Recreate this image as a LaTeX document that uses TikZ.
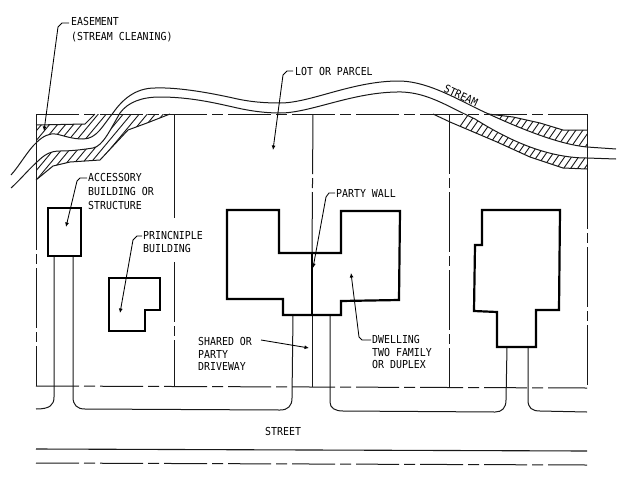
\documentclass[tikz,border=0pt]{standalone}
\usepackage{fontspec}
\usetikzlibrary{arrows.meta}
\newfontfamily\cadfont[FakeStretch=0.9]{DejaVu Sans Mono}
\tikzset{
  x=1pt,y=-1pt,
  lotline/.style={line width=1pt,black!90,dash pattern=on 43pt off 5pt on 11pt off 5pt},
  lotvert/.style={line width=1pt,black!90,dash pattern=on 60pt off 4pt on 10pt off 4pt},
  thinline/.style={line width=1pt,black!90,line join=round},
  bldg/.style={line width=2.2pt,black,line join=miter},
  leader/.style={line width=0.85pt,black,-{Latex[length=4.5pt,width=4pt]},line join=round},
  lbl/.style={anchor=west,inner sep=0pt,align=left,font=\cadfont\fontsize{11}{12.6}\selectfont,text=black},
  hatchline/.style={line width=0.9pt,black!90},
}
\newcommand{\upperbank}{(11,175) .. controls (20,165) and (28,150) .. (37,142) .. controls (43,136) and (50,133) .. (56,134) .. controls (65,136) and (72,139) .. (83,139) .. controls (97,139) and (103,125) .. (113,113) .. controls (122,100) and (135,88) .. (155,88) .. controls (180,87) and (215,94) .. (233,98) .. controls (250,102) and (265,103) .. (280,103) .. controls (310,103) and (350,82) .. (396,81) .. controls (425,80) and (455,98) .. (480,110) .. controls (510,124) and (555,144) .. (587,147) -- (616,149)}
\newcommand{\lowerbank}{(11,188) .. controls (20,180) and (28,170) .. (37,162) .. controls (44,155) and (50,151) .. (60,151) .. controls (70,151) and (80,150) .. (93,148) .. controls (103,146) and (110,130) .. (120,113) .. controls (128,102) and (142,97) .. (160,97) .. controls (190,97) and (215,103) .. (233,107) .. controls (250,111) and (265,113) .. (280,113) .. controls (310,113) and (350,93) .. (396,92) .. controls (425,91) and (445,105) .. (475,119) .. controls (505,138) and (545,158) .. (587,158) -- (616,159)}
\newcommand{\streamarea}{\upperbank -- (616,159) -- (587,158) .. controls (545,158) and (505,138) .. (475,119) .. controls (445,105) and (425,91) .. (396,92) .. controls (350,93) and (310,113) .. (280,113) .. controls (265,113) and (250,111) .. (233,107) .. controls (215,103) and (190,97) .. (160,97) .. controls (142,97) and (128,102) .. (120,113) .. controls (110,130) and (103,146) .. (93,148) .. controls (80,150) and (70,151) .. (60,151) .. controls (50,151) and (44,155) .. (37,162) .. controls (28,170) and (20,180) .. (11,188) -- cycle}
\begin{document}
\begin{tikzpicture}
\useasboundingbox (0,0) rectangle (626,477);
\fill[white] (0,0) rectangle (626,477);

% hatched easement, left
\begin{scope}
  \clip (36,125) -- (85,124) -- (95,114) -- (117,114) -- (105,130) -- (75,145) -- (50,143) -- (36,153) -- cycle;
  \foreach \i in {-2,...,18} \draw[hatchline] (20+8*\i,160) -- ++(50,-60);
\end{scope}
\begin{scope}
  \clip (36,180) -- (53,166) -- (70,162) -- (100,160) -- (128,130) -- (147,123) -- (170,114) -- (117,114) -- (105,130) -- (75,145) -- (50,143) -- (36,153) -- cycle;
  \foreach \i in {-2,...,22} \draw[hatchline] (20+8*\i,190) -- ++(65,-78);
\end{scope}
\draw[thinline] (36,125) -- (85,124) -- (95,114);
\draw[thinline] (36,180) -- (53,166) -- (70,162) -- (100,160) -- (128,130) -- (147,123) -- (170,114);

% hatched easement, right
\begin{scope}
  \clip (488,114) -- (513,117) -- (540,123) -- (563,130) -- (587,130) -- (587,152) -- (563,148) -- (540,142) -- (513,130) -- cycle;
  \foreach \i in {0,...,16} \draw[hatchline] (478+7*\i,150) -- ++(28,-40);
\end{scope}
\begin{scope}
  \clip (433,114) -- (450,122) -- (497,142) -- (530,157) -- (563,168) -- (587,169) -- (587,153) -- (563,150) -- (530,142) -- (497,126) -- (470,114) -- cycle;
  \foreach \i in {0,...,26} \draw[hatchline] (426+7*\i,175) -- ++(42,-60);
\end{scope}
\draw[thinline] (488,114) -- (513,117) -- (540,123) -- (563,130) -- (587,130);
\draw[thinline] (433,114) -- (450,122) -- (497,142) -- (530,157) -- (563,168) -- (587,169);

% stream water surface hides the hatching
\fill[white] \streamarea;

% lots
\draw[lotline] (36,114) -- (587,114);
\draw[lotline] (36,386) -- (587,388);
\draw[thinline] (36,114) -- (36,190);
\draw[lotvert] (36,190) -- (36,386);
\draw[thinline] (587,114) -- (587,169);
\draw[lotvert] (587,169) -- (587,388);
\draw[thinline] (174,114) -- (174,218);
\draw[lotvert] (174,262) -- (174,387);
\draw[lotvert] (313,114) -- (312,253);
\draw[lotvert] (449,114) -- (449,388);
\draw[thinline] (312,315) -- (312,387);

% stream
\draw[thinline] \upperbank;
\draw[thinline] \lowerbank;

% driveways
\draw[thinline] (54,256) -- (54,397) .. controls (54,405) and (50,409) .. (36,409);
\draw[thinline] (73,256) -- (73,397) .. controls (73,405) and (77,409) .. (85,409) -- (280,410) .. controls (288,410) and (292,406) .. (292,398) -- (293,315);
\draw[thinline] (330,315) -- (330,402) .. controls (330,408) and (335,411) .. (343,411) -- (495,412) .. controls (502,412) and (506,408) .. (506,400) -- (507,347);
\draw[thinline] (528,347) -- (528,400) .. controls (528,408) and (532,411) .. (540,411) -- (587,412);

% street
\draw[line width=1.1pt,black!90] (36,449) -- (587,451);
\draw[lotline] (36,463) -- (587,465);

% buildings
\draw[bldg] (48,208) rectangle (81,256);
\draw[bldg] (109,278) -- (160,278) -- (160,310) -- (145,310) -- (145,331) -- (109,331) -- cycle;
\draw[bldg] (227,210) -- (279,210) -- (279,253) -- (341,253) -- (341,211) -- (400,211) -- (399,300) -- (341,301) -- (341,315) -- (283,315) -- (283,299) -- (227,299) -- cycle;
\draw[bldg] (312,253) -- (312,315);
\draw[bldg] (482,210) -- (560,210) -- (559,310) -- (536,310) -- (536,347) -- (497,347) -- (497,312) -- (474,311) -- (475,245) -- (482,245) -- cycle;

% labels
\node[lbl] (easement) at (71,29.5) {EASEMENT\\[2pt](STREAM CLEANING)};
\node[lbl] (lot) at (295,71) {LOT OR PARCEL};
\node[lbl,rotate=-25,anchor=center] (stream) at (461,95.5) {STREAM};
\node[lbl] (accessory) at (88,191) {ACCESSORY\\[1.4pt]BUILDING OR\\[1.4pt]STRUCTURE};
\node[lbl] (principle) at (143,242) {PRINCNIPLE\\BUILDING};
\node[lbl] (party) at (336,193) {PARTY WALL};
\node[lbl] (shared) at (198,354) {SHARED OR\\PARTY\\DRIVEWAY};
\node[lbl] (dwelling) at (372,352) {DWELLING\\TWO FAMILY\\OR DUPLEX};
\node[lbl] (street) at (265,431) {STREET};

% leader ends
\coordinate (tipE) at (44,131);
\coordinate (tipL) at (273,150);
\coordinate (tipA) at (66,227);
\coordinate (tipP) at (120,313);
\coordinate (tipW) at (313,268);
\coordinate (tipS) at (309,348);
\coordinate (tipD) at (351,273);
\coordinate (startE) at (69,23);
\coordinate (startL) at (293,71);
\coordinate (startA) at (87,178);
\coordinate (startP) at (142,236);
\coordinate (startW) at (335,193);
\coordinate (startS) at (261,340);
\coordinate (startD) at (371,340);

\draw[leader] (startE) -- (62,23) -- (58,27) -- (tipE);
\draw[leader] (startL) -- (287,71) -- (283,75) -- (tipL);
\draw[leader] (startA) -- (80,178) -- (77,181) -- (tipA);
\draw[leader] (startP) -- (137,236) -- (133,240) -- (tipP);
\draw[leader] (startW) -- (329,193) -- (326,197) -- (tipW);
\draw[leader] (startS) -- (tipS);
\draw[leader] (startD) -- (362,340) -- (359,337) -- (tipD);
\end{tikzpicture}
\end{document}
